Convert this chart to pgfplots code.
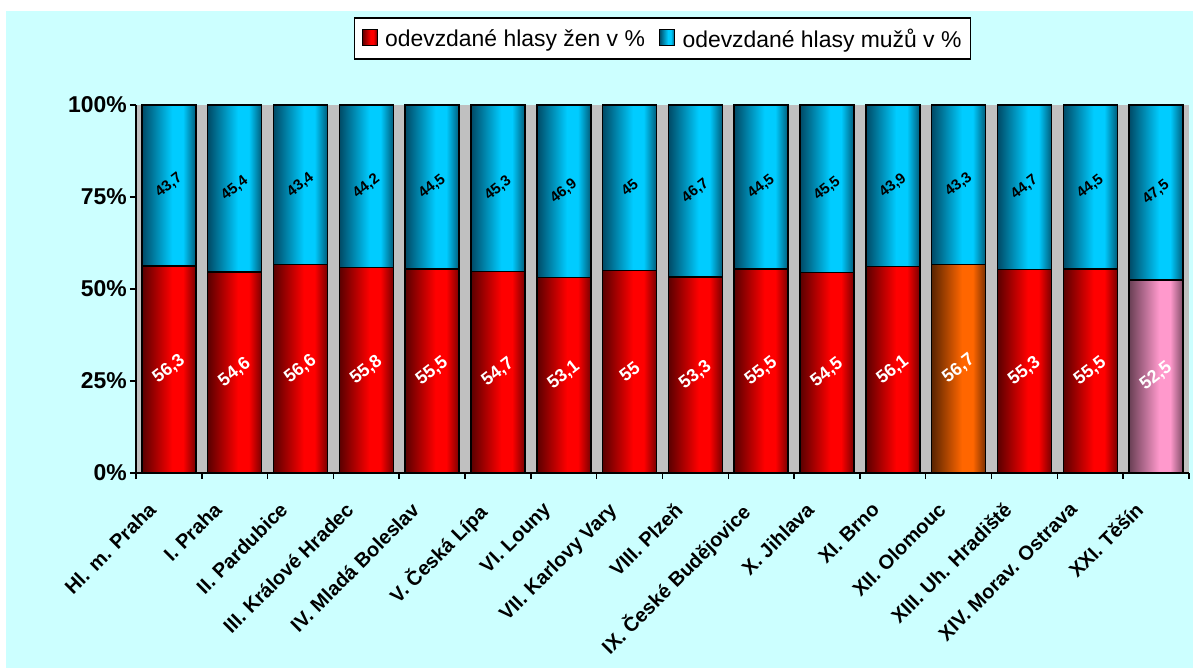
\documentclass[border=0pt]{standalone}
\usepackage{pgfplots}
\pgfplotsset{compat=1.18}
\usepackage{pgfplotstable}
\usepackage{fontspec}
\setmainfont{Liberation Sans}
\definecolor{bgcyan}{HTML}{CCFFFF}
\definecolor{plotgrey}{HTML}{C0C0C0}
\definecolor{wred}{HTML}{FF0000}
\definecolor{wredL}{HTML}{5A0000}
\definecolor{wredR}{HTML}{780000}
\definecolor{mcyan}{HTML}{00CCFF}
\definecolor{mcyanL}{HTML}{004A66}
\definecolor{mcyanR}{HTML}{005C7A}
\definecolor{oorange}{HTML}{FF6600}
\definecolor{oorangeL}{HTML}{5A2400}
\definecolor{oorangeR}{HTML}{7A3000}
\definecolor{ppink}{HTML}{FF99CC}
\definecolor{ppinkL}{HTML}{6A3F55}
\definecolor{ppinkR}{HTML}{7E4C66}

\pgfdeclarehorizontalshading{redsh}{100bp}{color(0bp)=(wredL); color(25bp)=(wredL); color(53bp)=(wred); color(63bp)=(wred); color(75bp)=(wredR); color(100bp)=(wredR)}
\pgfdeclarehorizontalshading{cyansh}{100bp}{color(0bp)=(mcyanL); color(25bp)=(mcyanL); color(53bp)=(mcyan); color(63bp)=(mcyan); color(75bp)=(mcyanR); color(100bp)=(mcyanR)}
\pgfdeclarehorizontalshading{orangesh}{100bp}{color(0bp)=(oorangeL); color(25bp)=(oorangeL); color(53bp)=(oorange); color(63bp)=(oorange); color(75bp)=(oorangeR); color(100bp)=(oorangeR)}
\pgfdeclarehorizontalshading{pinksh}{100bp}{color(0bp)=(ppinkL); color(25bp)=(ppinkL); color(53bp)=(ppink); color(63bp)=(ppink); color(75bp)=(ppinkR); color(100bp)=(ppinkR)}

\pgfplotstableread{
i w m wl ml
0 56.3 43.7 56,3 43,7
1 54.6 45.4 54,6 45,4
2 56.6 43.4 56,6 43,4
3 55.8 44.2 55,8 44,2
4 55.5 44.5 55,5 44,5
5 54.7 45.3 54,7 45,3
6 53.1 46.9 53,1 46,9
7 55.0 45.0 55 45
8 53.3 46.7 53,3 46,7
9 55.5 44.5 55,5 44,5
10 54.5 45.5 54,5 45,5
11 56.1 43.9 56,1 43,9
12 56.7 43.3 56,7 43,3
13 55.3 44.7 55,3 44,7
14 55.5 44.5 55,5 44,5
15 52.5 47.5 52,5 47,5
}\data

\tikzset{
  barbase/.style={ybar, bar width=0.82, bar shift=0pt, draw=black, line width=1.5bp},
  redbar/.style={shade, shading=redsh},
  cyanbar/.style={shade, shading=cyansh},
  orangebar/.style={shade, shading=orangesh},
  pinkbar/.style={shade, shading=pinksh},
}

\begin{document}
\begin{tikzpicture}
\path[use as bounding box] (-136bp,-196bp) rectangle (1062bp,473bp);
\fill[white] (-136bp,-196bp) rectangle (1062bp,473bp);
\fill[bgcyan] (-130bp,-195bp) rectangle (1057bp,462bp);
\begin{axis}[
  at={(0,0)}, anchor=south west,
  scale only axis, width=1053bp, height=368bp,
  xmin=-0.5, xmax=15.5, ymin=0, ymax=100,
  axis x line*=bottom, axis y line*=left,
  axis line style={line width=1.5bp, black, -},
  axis background/.style={fill=plotgrey},
  clip=false,
  xtick={-0.5,0.5,...,15.5},
  x tick label as interval,
  xticklabels={Hl. m. Praha, I. Praha, II. Pardubice, III. Králové Hradec, IV. Mladá Boleslav, V. Česká Lípa, VI. Louny, VII. Karlovy Vary, VIII. Plzeň, IX. České Budějovice, X. Jihlava, XI. Brno, XII. Olomouc, XIII. Uh. Hradiště, XIV. Morav. Ostrava, XXI. Těšín},
  xticklabel style={font=\bfseries\fontsize{20}{22}\selectfont, xshift=-22bp, yshift=-19bp, rotate=45, anchor=north east, inner sep=2bp},
  ytick={0,25,50,75,100},
  yticklabels={0\%,25\%,50\%,75\%,100\%},
  yticklabel style={font=\bfseries\fontsize{23}{25}\selectfont, inner sep=3bp},
  tick align=outside, major tick length=6bp,
  tick style={black, line width=1.5bp},
  legend columns=2,
  legend cell align=left,
  legend image code/.code={\path[shade=false, draw=none, fill=none] (0bp,-17bp) rectangle (21bp,18bp);\draw[line width=1.2bp, draw=black, #1] (0bp,-6bp) rectangle (15bp,10bp);},
  legend style={at={(0.5,1)}, anchor=south, yshift=45bp, draw=black, line width=1.5bp, fill=white,
    font=\fontsize{23}{26}\selectfont, inner xsep=7bp, inner ysep=3bp,
    /tikz/every even column/.append style={column sep=12bp}},
]
\addlegendimage{redbar}
\addlegendentry{odevzdané hlasy žen v \%}
\addlegendimage{cyanbar}
\addlegendentry{odevzdané hlasy mužů v \%}

\pgfplotsinvokeforeach{0,...,15}{
  \addplot[barbase, cyanbar, forget plot, x filter/.expression={x==#1 ? x : nan}] table[x=i, y expr=\thisrow{w}+\thisrow{m}] {\data};
}
\pgfplotsinvokeforeach{0,1,2,3,4,5,6,7,8,9,10,11,13,14}{
  \addplot[barbase, redbar, forget plot, x filter/.expression={x==#1 ? x : nan}] table[x=i, y=w] {\data};
}
\addplot[barbase, orangebar, forget plot, x filter/.expression={x==12 ? x : nan}] table[x=i, y=w] {\data};
\addplot[barbase, pinkbar, forget plot, x filter/.expression={x==15 ? x : nan}] table[x=i, y=w] {\data};

\addplot[draw=none, mark=none, forget plot, nodes near coords, point meta=explicit symbolic,
  every node near coord/.append style={anchor=center, rotate=38, text=white, font=\bfseries\fontsize{18}{20}\selectfont}]
  table[x=i, y expr=\thisrow{w}/2, meta=wl] {\data};
\addplot[draw=none, mark=none, forget plot, nodes near coords, point meta=explicit symbolic,
  every node near coord/.append style={anchor=center, rotate=38, text=black, font=\bfseries\fontsize{15}{17}\selectfont}]
  table[x=i, y expr=\thisrow{w}+\thisrow{m}/2, meta=ml] {\data};
\end{axis}
\end{tikzpicture}
\end{document}
